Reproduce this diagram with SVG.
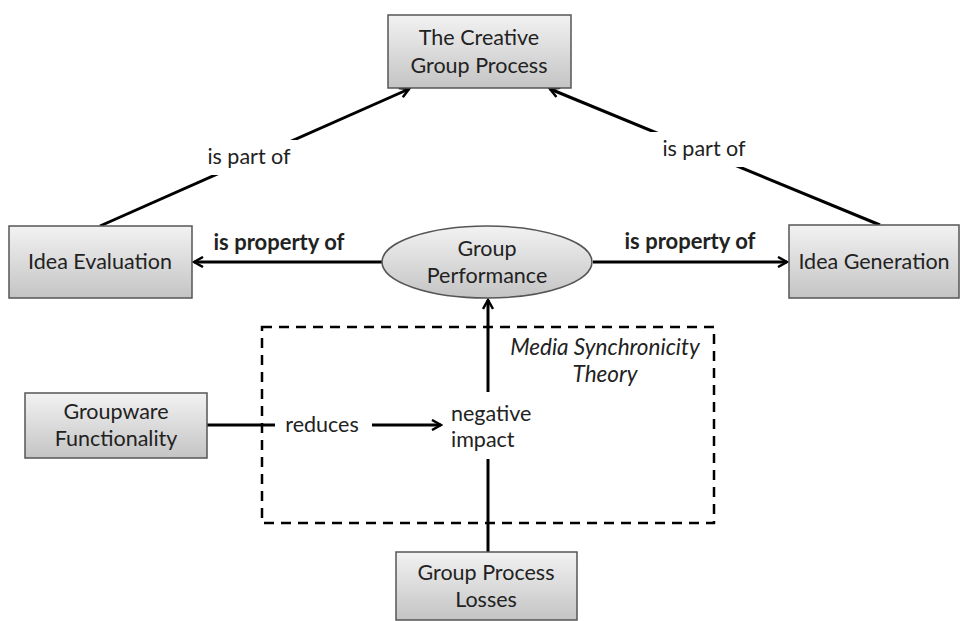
<svg xmlns="http://www.w3.org/2000/svg" width="967" height="621" viewBox="0 0 967 621">
<defs>
<linearGradient id="g" x1="0" y1="0" x2="0" y2="1">
<stop offset="0" stop-color="#f2f2f2"/>
<stop offset="1" stop-color="#c4c4c4"/>
</linearGradient>
<marker id="ah" viewBox="0 0 12 12" refX="10" refY="6" markerWidth="12" markerHeight="12" markerUnits="userSpaceOnUse" orient="auto">
<path d="M1,1 L10,6 L1,11" fill="none" stroke="#000" stroke-width="2.5"/>
</marker>
</defs>
<style>
.box{fill:url(#g);stroke:#555;stroke-width:1.5}
.t{font-family:Lato,"Open Sans",sans-serif;font-size:21.5px;fill:#222;text-anchor:middle}
.b{font-weight:bold;font-size:22px}
.ln{stroke:#000;stroke-width:3;fill:none}
.it{font-style:italic;font-size:22.5px}
</style>
<rect width="967" height="621" fill="#fff"/>
<g id="connectors">
<line class="ln" x1="100" y1="226" x2="409" y2="89" marker-end="url(#ah)"/>
<line class="ln" x1="880" y1="225" x2="550" y2="89" marker-end="url(#ah)"/>
<rect x="185" y="140" width="125" height="35" fill="#fff"/>
<rect x="640" y="132" width="125" height="35" fill="#fff"/>
<text class="t" x="249" y="164">is part of</text>
<text class="t" x="704" y="156">is part of</text>
<line class="ln" x1="382" y1="262" x2="194" y2="262" marker-end="url(#ah)"/>
<line class="ln" x1="593" y1="262" x2="787" y2="262" marker-end="url(#ah)"/>
<text class="t b" x="279" y="250">is property of</text>
<text class="t b" x="690" y="249">is property of</text>
<rect x="262" y="327" width="452" height="196" fill="none" stroke="#000" stroke-width="2.5" stroke-dasharray="10,7"/>
<line class="ln" x1="488" y1="392" x2="488" y2="300" marker-end="url(#ah)"/>
<line class="ln" x1="488" y1="552" x2="488" y2="459"/>
<line class="ln" x1="207" y1="425" x2="275" y2="425"/>
<line class="ln" x1="372" y1="425" x2="441" y2="425" marker-end="url(#ah)"/>
<text class="t" x="322" y="432">reduces</text>
<text class="t" x="451" y="421" style="text-anchor:start">negative</text>
<text class="t" x="451" y="447" style="text-anchor:start">impact</text>
<text class="t it" x="605" y="355">Media Synchronicity</text>
<text class="t it" x="605" y="382">Theory</text>
</g>
<g id="creative">
<rect class="box" x="388" y="15" width="183" height="73"/>
<text class="t" x="479" y="45">The Creative</text>
<text class="t" x="479" y="73">Group Process</text>
</g>
<g id="evaluation">
<rect class="box" x="9" y="226" width="183" height="72"/>
<text class="t" x="100" y="269">Idea Evaluation</text>
</g>
<g id="performance">
<ellipse class="box" cx="487" cy="262" rx="105" ry="36"/>
<text class="t" x="487" y="256">Group</text>
<text class="t" x="487" y="283">Performance</text>
</g>
<g id="generation">
<rect class="box" x="789" y="225" width="170" height="73"/>
<text class="t" x="874" y="269">Idea Generation</text>
</g>
<g id="groupware">
<rect class="box" x="25" y="393" width="182" height="65"/>
<text class="t" x="116" y="419">Groupware</text>
<text class="t" x="116" y="446">Functionality</text>
</g>
<g id="losses">
<rect class="box" x="396" y="552" width="181" height="68"/>
<text class="t" x="486" y="580">Group Process</text>
<text class="t" x="486" y="607">Losses</text>
</g>
</svg>
